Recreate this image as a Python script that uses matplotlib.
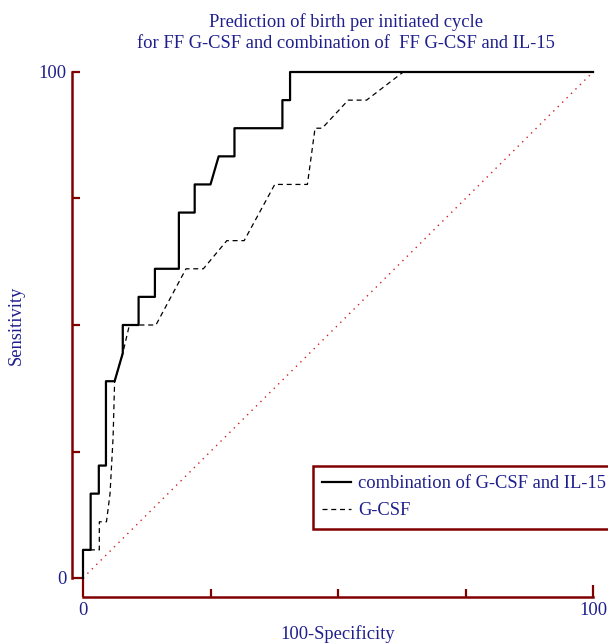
import matplotlib
matplotlib.use("Agg")
import matplotlib.pyplot as plt

plt.rcParams['font.family'] = ['Liberation Serif', 'DejaVu Serif']

# ROC curves (100-Specificity, Sensitivity)
combo_x = [0, 0, 1.5, 1.5, 3.1, 3.1, 4.5, 4.5, 6.2, 7.8, 7.8, 10.9, 10.9, 14.1, 14.1,
           18.8, 18.8, 21.9, 21.9, 25.0, 26.6, 29.7, 29.7, 39.1, 39.1, 40.6, 40.6, 100]
combo_y = [0, 5.56, 5.56, 16.67, 16.67, 22.22, 22.22, 38.89, 38.89, 44.44, 50.0, 50.0,
           55.56, 55.56, 61.11, 61.11, 72.22, 72.22, 77.78, 77.78, 83.33, 83.33, 88.89,
           88.89, 94.44, 94.44, 100, 100]

gcsf_x = [0, 0, 3.2, 3.2, 4.6, 5.3, 5.9, 6.2, 7.8, 9.1, 14.3, 20.2, 23.6, 28.2, 31.6,
          37.6, 44.0, 45.5, 46.9, 52.0, 55.6, 62.8, 100]
gcsf_y = [0, 5.56, 5.56, 11.11, 11.11, 16.67, 27.78, 38.89, 44.44, 50.0, 50.0, 61.11,
          61.11, 66.67, 66.67, 77.78, 77.78, 88.89, 88.89, 94.44, 94.44, 100, 100]

ref_line = [0, 100]
ticks = [0, 25, 50, 75, 100]
tick_labels = ['0', '', '', '', '100']

navy = '#1e1e8c'
maroon = '#800000'
fs = 13.3

fig = plt.figure(figsize=(6.08, 6.44), dpi=100)
ax = fig.add_axes([83 / 608, 66 / 644, 510 / 608, 506 / 644])

ax.plot(ref_line, ref_line, color='#d02020', lw=1.0, linestyle=(0, (1, 3.5)), clip_on=False)
ax.plot(combo_x, combo_y, color='black', lw=1.6, clip_on=False,
        label='combination of G-CSF and IL-15')
ax.plot(gcsf_x, gcsf_y, color='black', lw=0.9, linestyle=(0, (4, 3)), clip_on=False,
        label='G-CSF')

ax.set_xlim(0, 100)
ax.set_ylim(0, 100)

for side in ['top', 'right']:
    ax.spines[side].set_visible(False)
ax.spines['left'].set_position(('outward', 8))
ax.spines['bottom'].set_position(('outward', 14))
for side in ['left', 'bottom']:
    ax.spines[side].set_color(maroon)
    ax.spines[side].set_linewidth(1.8)

ax.set_xticks(ticks)
ax.set_xticklabels(tick_labels)
ax.set_yticks(ticks)
ax.set_yticklabels(tick_labels)
ax.tick_params(direction='in', length=6, width=1.6, color=maroon,
               labelcolor=navy, labelsize=fs)
ax.tick_params(axis='x', pad=3)
ax.tick_params(axis='y', pad=4)

# longer tick marks at the ends, as in the original
xt = ax.xaxis.get_major_ticks()
xt[0].tick1line.set_markersize(14)
xt[-1].tick1line.set_markersize(9)
yt = ax.yaxis.get_major_ticks()
yt[0].tick1line.set_markersize(8)

ax.set_xlabel('100-Specificity', color=navy, fontsize=fs, labelpad=5)
ax.set_ylabel('Sensitivity', color=navy, fontsize=fs)
ax.yaxis.set_label_coords(-0.115, 0.5)
ax.set_title('Prediction of birth per initiated cycle\n'
             'for FF G-CSF and combination of  FF G-CSF and IL-15',
             color=navy, fontsize=fs, pad=17, linespacing=1.3, x=0.516)

leg = ax.legend(loc='upper left', bbox_to_anchor=(313 / 608, 178 / 644),
                bbox_transform=fig.transFigure, borderaxespad=0, fancybox=False,
                edgecolor=maroon, framealpha=1, fontsize=fs, handlelength=1.55,
                handletextpad=0.4, labelspacing=0.55, borderpad=0.5)
leg.get_frame().set_linewidth(1.8)
for t in leg.get_texts():
    t.set_color(navy)

fig.savefig('out.png', dpi=100)
